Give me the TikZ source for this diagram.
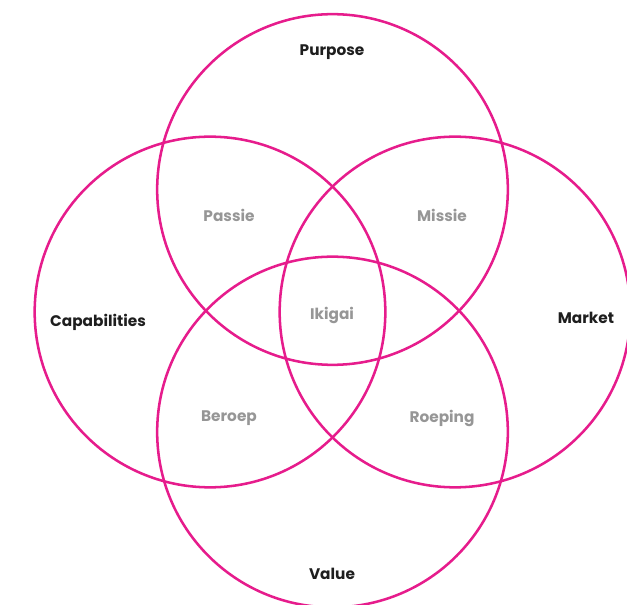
\documentclass[tikz,border=0pt]{standalone}
\usepackage{fontspec}
\setmainfont{Poppins}
\definecolor{ikimag}{RGB}{230,28,140}
\definecolor{ikigray}{RGB}{150,150,150}
\definecolor{ikidark}{RGB}{30,30,30}
\begin{document}
\begin{tikzpicture}[x=0.75pt,y=-0.75pt,
  ring/.style={circle,draw=ikimag,line width=1.9pt,minimum size=263pt,inner sep=0pt},
  mainlbl/.style={text=ikidark,font=\fontsize{11.5pt}{13pt}\selectfont\bfseries},
  sublbl/.style={text=ikigray,font=\fontsize{11.5pt}{13pt}\selectfont\bfseries}]
\useasboundingbox (0,0) rectangle (627,605);
\node[ring] (top) at (332.5,189.5) {};
\node[ring] (left) at (210,312) {};
\node[ring] (right) at (455,312) {};
\node[ring] (bottom) at (332.5,432) {};
\node[mainlbl] (purpose) at (332,52) {Purpose};
\node[mainlbl] (cap) at (98,322) {Capabilities};
\node[mainlbl] (market) at (586,318) {Market};
\node[mainlbl] (value) at (332,574) {Value};
\node[sublbl] (passie) at (229,215) {Passie};
\node[sublbl] (missie) at (442,215) {Missie};
\node[sublbl] (ikigai) at (332,315) {Ikigai};
\node[sublbl] (beroep) at (229,418) {Beroep};
\node[sublbl] (roeping) at (442,418) {Roeping};
\end{tikzpicture}
\end{document}
